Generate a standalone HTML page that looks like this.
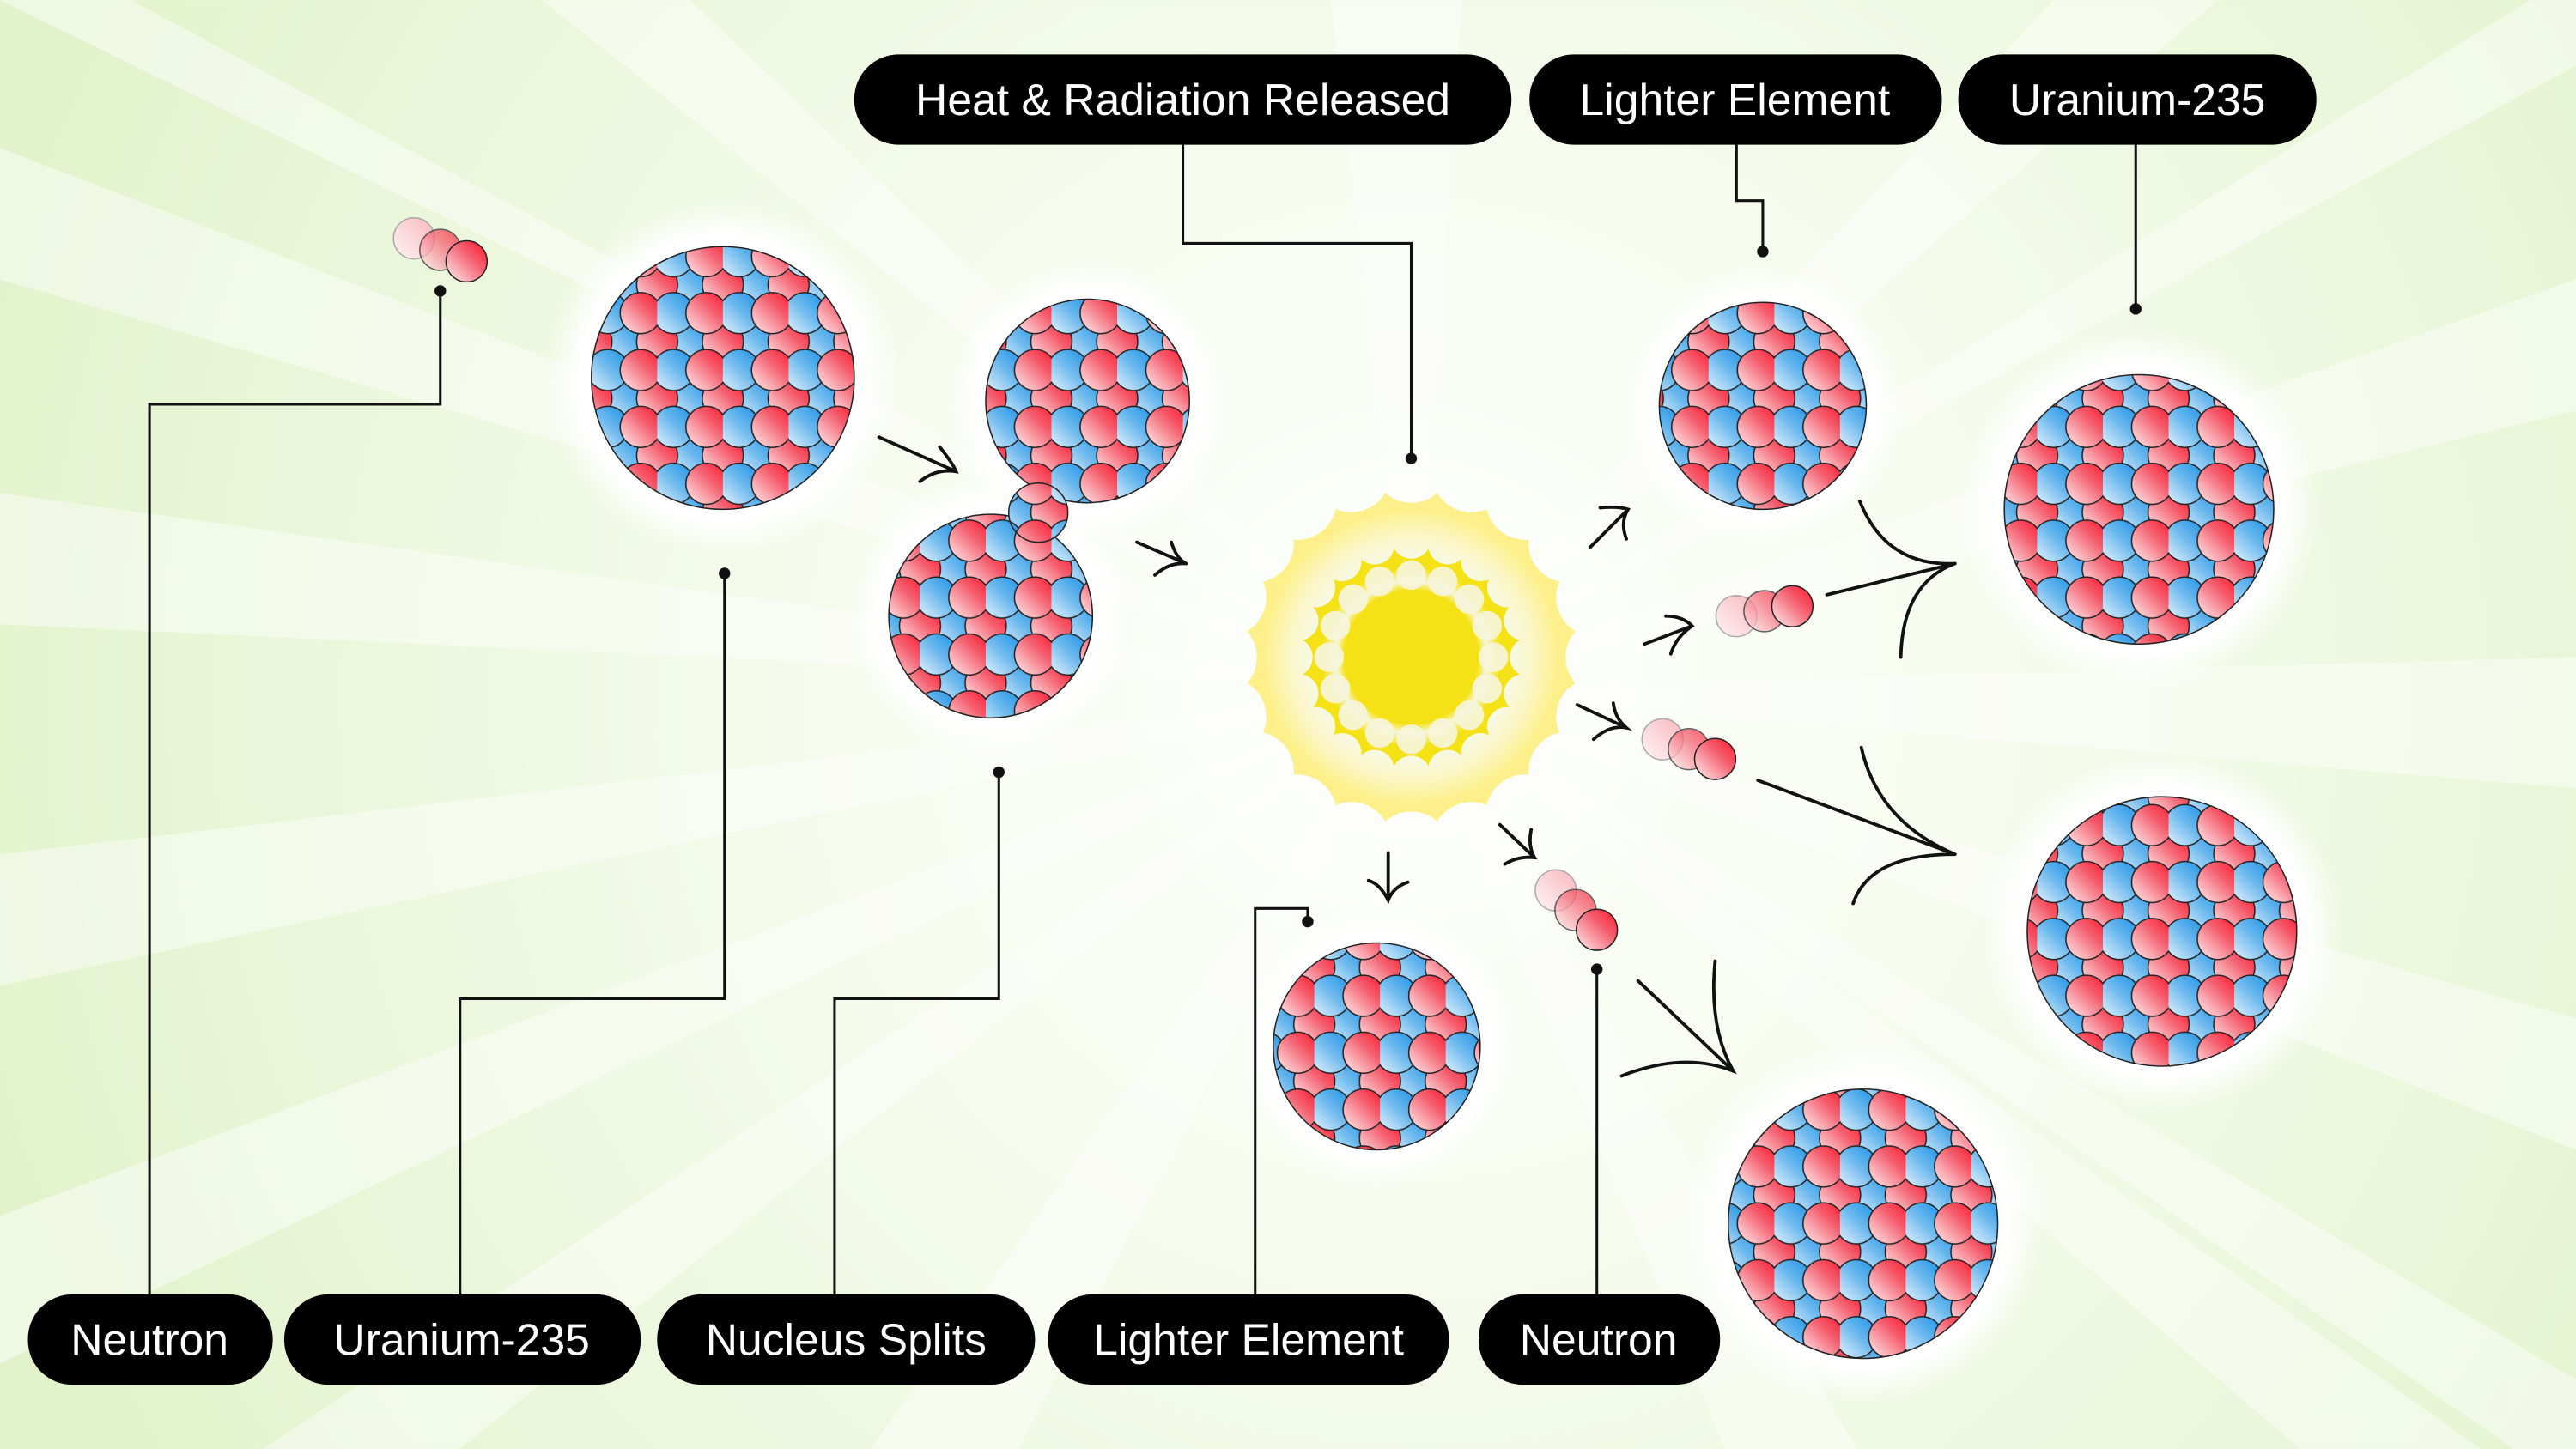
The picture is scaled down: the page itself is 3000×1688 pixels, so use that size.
<!DOCTYPE html>
<html><head><meta charset="utf-8"><style>
html,body{margin:0;padding:0;background:#e9f6d8;width:3000px;height:1688px;overflow:hidden}
svg{display:block;overflow:hidden}
text{font-family:"Liberation Sans",sans-serif;font-size:27px;fill:#fff}
</style></head><body>
<svg width="3000" height="1688" viewBox="0 0 1568 882" xmlns="http://www.w3.org/2000/svg">
<defs>
<clipPath id="frame"><rect width="1568" height="882"/></clipPath>
<radialGradient id="bg" cx="860" cy="420" r="900" gradientUnits="userSpaceOnUse">
<stop offset="0" stop-color="#ffffff"/><stop offset="0.35" stop-color="#f7fcf0"/><stop offset="0.8" stop-color="#e9f6d8"/><stop offset="1" stop-color="#e2f3cc"/></radialGradient>
<linearGradient id="gr" x1="0" y1="1" x2="1" y2="0"><stop offset="0" stop-color="#fff2f3"/><stop offset="0.6" stop-color="#f56070"/><stop offset="1" stop-color="#ff1428"/></linearGradient>
<linearGradient id="gb" x1="0" y1="1" x2="1" y2="0"><stop offset="0" stop-color="#eef7fd"/><stop offset="0.55" stop-color="#6ab8ee"/><stop offset="1" stop-color="#1890e6"/></linearGradient>
<pattern id="nuc" width="40" height="34.64" patternUnits="userSpaceOnUse">
<g stroke="#222" stroke-width="0.8">
<circle cx="20" cy="0" r="12.5" fill="url(#gb)"/>
<circle cx="20" cy="34.64" r="12.5" fill="url(#gb)"/>
<circle cx="0" cy="0" r="12.5" fill="url(#gr)"/>
<circle cx="40" cy="0" r="12.5" fill="url(#gr)"/>
<circle cx="0" cy="34.64" r="12.5" fill="url(#gr)"/>
<circle cx="40" cy="34.64" r="12.5" fill="url(#gr)"/>
<circle cx="10" cy="17.32" r="12.5" fill="url(#gb)"/>
<circle cx="30" cy="17.32" r="12.5" fill="url(#gr)"/>
</g></pattern>
<radialGradient id="halo"><stop offset="0.8" stop-color="#fff" stop-opacity="1"/><stop offset="1" stop-color="#fff" stop-opacity="0"/></radialGradient>
<radialGradient id="outerG" cx="859" cy="400" r="100" gradientUnits="userSpaceOnUse">
<stop offset="0.6" stop-color="#f6f9e6"/><stop offset="0.75" stop-color="#fbf6c4"/><stop offset="0.9" stop-color="#fdf08a"/><stop offset="1" stop-color="#fdf08a"/></radialGradient>
<radialGradient id="midG" cx="859" cy="400" r="68" gradientUnits="userSpaceOnUse">
<stop offset="0.6" stop-color="#f5e216"/><stop offset="0.68" stop-color="#f7f6dc"/><stop offset="0.8" stop-color="#f5e216"/><stop offset="1" stop-color="#f5e216"/></radialGradient>
<linearGradient id="n1" x1="0" y1="1" x2="1" y2="0"><stop offset="0" stop-color="#fff4f5"/><stop offset="1" stop-color="#f7b8be"/></linearGradient>
<circle id="oc" cx="859" cy="282" r="24"/>
<circle id="mc" cx="859" cy="328" r="12"/>
<circle id="ic" cx="859" cy="350" r="9"/>
<mask id="m1" maskUnits="userSpaceOnUse" x="700" y="240" width="320" height="320">
<rect x="700" y="240" width="320" height="320" fill="#fff"/>
<g fill="#000">
<use href="#oc"/><use href="#oc" transform="rotate(18 859 400)"/><use href="#oc" transform="rotate(36 859 400)"/><use href="#oc" transform="rotate(54 859 400)"/><use href="#oc" transform="rotate(72 859 400)"/><use href="#oc" transform="rotate(90 859 400)"/><use href="#oc" transform="rotate(108 859 400)"/><use href="#oc" transform="rotate(126 859 400)"/><use href="#oc" transform="rotate(144 859 400)"/><use href="#oc" transform="rotate(162 859 400)"/><use href="#oc" transform="rotate(180 859 400)"/><use href="#oc" transform="rotate(198 859 400)"/><use href="#oc" transform="rotate(216 859 400)"/><use href="#oc" transform="rotate(234 859 400)"/><use href="#oc" transform="rotate(252 859 400)"/><use href="#oc" transform="rotate(270 859 400)"/><use href="#oc" transform="rotate(288 859 400)"/><use href="#oc" transform="rotate(306 859 400)"/><use href="#oc" transform="rotate(324 859 400)"/><use href="#oc" transform="rotate(342 859 400)"/>
</g></mask>
<mask id="m2" maskUnits="userSpaceOnUse" x="700" y="240" width="320" height="320">
<rect x="700" y="240" width="320" height="320" fill="#fff"/>
<g fill="#000">
<use href="#mc"/><use href="#mc" transform="rotate(18 859 400)"/><use href="#mc" transform="rotate(36 859 400)"/><use href="#mc" transform="rotate(54 859 400)"/><use href="#mc" transform="rotate(72 859 400)"/><use href="#mc" transform="rotate(90 859 400)"/><use href="#mc" transform="rotate(108 859 400)"/><use href="#mc" transform="rotate(126 859 400)"/><use href="#mc" transform="rotate(144 859 400)"/><use href="#mc" transform="rotate(162 859 400)"/><use href="#mc" transform="rotate(180 859 400)"/><use href="#mc" transform="rotate(198 859 400)"/><use href="#mc" transform="rotate(216 859 400)"/><use href="#mc" transform="rotate(234 859 400)"/><use href="#mc" transform="rotate(252 859 400)"/><use href="#mc" transform="rotate(270 859 400)"/><use href="#mc" transform="rotate(288 859 400)"/><use href="#mc" transform="rotate(306 859 400)"/><use href="#mc" transform="rotate(324 859 400)"/><use href="#mc" transform="rotate(342 859 400)"/>
</g></mask>
</defs>
<g clip-path="url(#frame)">
<rect width="1568" height="882" fill="url(#bg)"/>
<g fill="#fff" opacity="0.45">
<path d="M860,420 L0,300 L0,380Z"/><path d="M860,420 L0,520 L0,600Z"/><path d="M860,420 L0,0 L80,0Z"/>
<path d="M860,420 L330,0 L420,0Z"/><path d="M860,420 L0,90 L0,170Z"/><path d="M860,420 L0,740 L0,830Z"/>
<path d="M860,420 L160,882 L280,882Z"/><path d="M860,420 L530,882 L620,882Z"/><path d="M860,420 L1568,170 L1568,250Z"/>
<path d="M860,420 L1568,400 L1568,480Z"/><path d="M860,420 L1568,620 L1568,700Z"/><path d="M860,420 L1250,0 L1350,0Z"/>
<path d="M860,420 L1540,0 L1568,0 L1568,40Z"/><path d="M860,420 L1400,882 L1510,882Z"/><path d="M860,420 L1568,840 L1568,882 L1530,882Z"/>
<path d="M860,420 L1050,882 L1130,882Z"/><path d="M860,420 L810,0 L890,0Z"/>
</g>
<g fill="url(#halo)">
<circle cx="440" cy="230" r="108"/><circle cx="662" cy="244" r="85"/><circle cx="603" cy="375" r="85"/>
<circle cx="1073" cy="247" r="85"/><circle cx="1302" cy="310" r="110"/><circle cx="1316" cy="567" r="110"/>
<circle cx="1134" cy="745" r="110"/><circle cx="838" cy="637" r="85"/>
</g>
<g fill="url(#nuc)" stroke="#222" stroke-width="0.8">
<circle cx="440" cy="230" r="80"/>
<circle cx="662" cy="244" r="62"/>
<circle cx="603" cy="375" r="62"/>
<circle cx="632" cy="312" r="18"/>
<circle cx="1073" cy="247" r="63"/>
<circle cx="1302" cy="310" r="82"/>
<circle cx="1316" cy="567" r="82"/>
<circle cx="1134" cy="745" r="82"/>
<circle cx="838" cy="637" r="63"/>
</g>
<g>
<circle cx="859" cy="400" r="102" fill="url(#outerG)" mask="url(#m1)"/>
<circle cx="859" cy="400" r="68" fill="url(#midG)" mask="url(#m2)"/>
<g fill="#f7f6dc" opacity="0.9">
<use href="#ic"/><use href="#ic" transform="rotate(22.5 859 400)"/><use href="#ic" transform="rotate(45 859 400)"/><use href="#ic" transform="rotate(67.5 859 400)"/><use href="#ic" transform="rotate(90 859 400)"/><use href="#ic" transform="rotate(112.5 859 400)"/><use href="#ic" transform="rotate(135 859 400)"/><use href="#ic" transform="rotate(157.5 859 400)"/><use href="#ic" transform="rotate(180 859 400)"/><use href="#ic" transform="rotate(202.5 859 400)"/><use href="#ic" transform="rotate(225 859 400)"/><use href="#ic" transform="rotate(247.5 859 400)"/><use href="#ic" transform="rotate(270 859 400)"/><use href="#ic" transform="rotate(292.5 859 400)"/><use href="#ic" transform="rotate(315 859 400)"/><use href="#ic" transform="rotate(337.5 859 400)"/>
</g>
</g>
<g stroke="#222" stroke-width="0.8">
<circle cx="252" cy="145" r="12.5" fill="url(#n1)" stroke="#aaa"/><circle cx="268" cy="152" r="12.5" fill="url(#gr)" opacity="0.7"/><circle cx="284" cy="159" r="12.5" fill="url(#gr)"/>
<circle cx="1057" cy="375" r="12.5" fill="url(#n1)" stroke="#aaa"/><circle cx="1074" cy="372" r="12.5" fill="url(#gr)" opacity="0.7"/><circle cx="1091" cy="369" r="12.5" fill="url(#gr)"/>
<circle cx="1012" cy="450" r="12.5" fill="url(#n1)" stroke="#aaa"/><circle cx="1028" cy="456" r="12.5" fill="url(#gr)" opacity="0.7"/><circle cx="1044" cy="462" r="12.5" fill="url(#gr)"/>
<circle cx="947" cy="542" r="12.5" fill="url(#n1)" stroke="#aaa"/><circle cx="959" cy="554" r="12.5" fill="url(#gr)" opacity="0.7"/><circle cx="972" cy="566" r="12.5" fill="url(#gr)"/>
</g>
<g fill="none" stroke="#111" stroke-width="1.6">
<path d="M91,790 V246 H268 V177"/><path d="M280,790 V608 H441 V349"/><path d="M508,790 V608 H608 V470"/>
<path d="M764,790 V553 H796 V561"/><path d="M972,790 V590"/><path d="M720,88 V148 H859 V279"/>
<path d="M1057,88 V122 H1073 V153"/><path d="M1300,88 V188"/>
</g>
<g fill="#111"><circle cx="268" cy="177" r="3.5"/><circle cx="441" cy="349" r="3.5"/><circle cx="608" cy="470" r="3.5"/><circle cx="796" cy="561" r="3.5"/><circle cx="972" cy="590" r="3.5"/><circle cx="859" cy="279" r="3.5"/><circle cx="1073" cy="153" r="3.5"/><circle cx="1300" cy="188" r="3.5"/></g>
<g fill="none" stroke="#111" stroke-width="2" stroke-linecap="round">
<path d="M535,266 L582,287 M572,272 Q580,282 582,287 Q570,285 560,293"/>
<path d="M692,330 L722,343 M713,330 Q716,340 722,343 Q712,342 703,350"/>
<path d="M968,333 L991,310 M974,309 Q985,308 991,310 Q986,318 990,328"/>
<path d="M1001,392 L1030,381 M1014,375 Q1024,375 1030,381 Q1020,388 1017,398"/>
<path d="M960,429 L990,443 M982,428 Q983,437 990,443 Q980,441 970,450"/>
<path d="M913,502 L934,522 M932,505 Q930,515 934,522 Q924,521 916,526"/>
<path d="M845,519 V548 M833,536 Q840,538 845,548 Q848,540 857,537"/>
<path d="M1112,362 L1190,343 M1132,305 Q1148,345 1190,343 Q1158,355 1157,400"/>
<path d="M1070,475 L1190,520 M1133,455 Q1143,500 1190,520 Q1138,520 1128,550"/>
<path d="M997,597 L1055,652 M1044,585 Q1040,625 1055,652 Q1025,640 987,655"/>
</g>
<g fill="#000">
<rect x="520" y="33" width="400" height="55" rx="27"/><rect x="931" y="33" width="251" height="55" rx="27"/><rect x="1192" y="33" width="218" height="55" rx="27"/>
<rect x="17" y="788" width="149" height="55" rx="27"/><rect x="173" y="788" width="217" height="55" rx="27"/><rect x="400" y="788" width="230" height="55" rx="27"/><rect x="638" y="788" width="244" height="55" rx="27"/><rect x="900" y="788" width="147" height="55" rx="27"/>
</g>
<g text-anchor="middle">
<text x="720" y="70">Heat &amp; Radiation Released</text><text x="1056" y="70">Lighter Element</text><text x="1301" y="70">Uranium-235</text>
<text x="91" y="825">Neutron</text><text x="281" y="825">Uranium-235</text><text x="515" y="825">Nucleus Splits</text><text x="760" y="825">Lighter Element</text><text x="973" y="825">Neutron</text>
</g>
</g>
</svg>
</body></html>
